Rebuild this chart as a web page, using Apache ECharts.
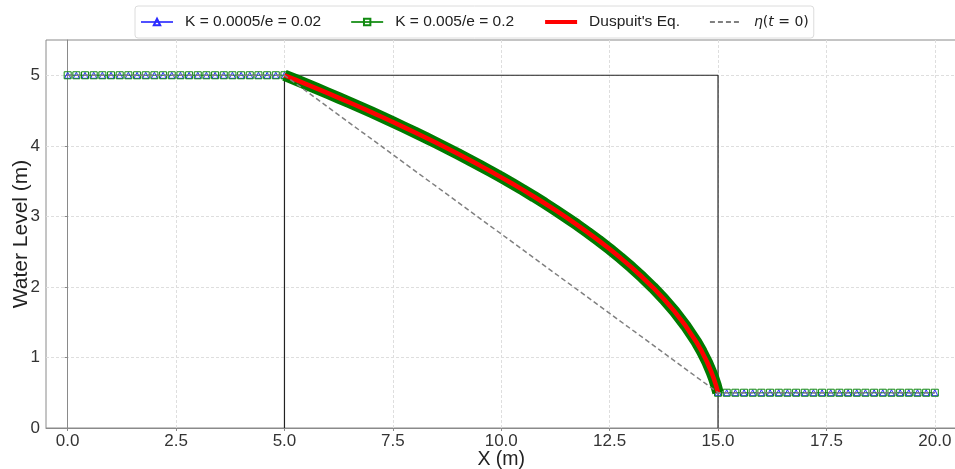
<!DOCTYPE html>
<html>
<head>
<meta charset="utf-8">
<script src="https://cdn.jsdelivr.net/npm/echarts@6/dist/echarts.min.js"></script>
<style>html,body{margin:0;padding:0;background:#fff}#c{width:955px;height:469px}</style>
</head>
<body>
<div id="c"></div>
<script>
// ---- data ----
const xLeft = [0,0.2,0.4,0.6,0.8,1.0,1.2,1.4,1.6,1.8,2.0,2.2,2.4,2.6,2.8,3.0,3.2,3.4,3.6,3.8,4.0,4.2,4.4,4.6,4.8];
const hLeft = [5,5,5,5,5,5,5,5,5,5,5,5,5,5,5,5,5,5,5,5,5,5,5,5,5];
const xMid = [5.0,5.25,5.5,5.75,6.0,6.25,6.5,6.75,7.0,7.25,7.5,7.75,8.0,8.25,8.5,8.75,9.0,9.25,9.5,9.75,10.0,10.25,10.5,10.75,11.0,11.25,11.5,11.75,12.0,12.25,12.5,12.75,13.0,13.25,13.5,13.75,14.0,14.25,14.5,14.625,14.75,14.85,14.9,14.95,15.0];
const hMid = [5.000,4.938,4.875,4.811,4.746,4.680,4.614,4.546,4.478,4.408,4.337,4.265,4.192,4.118,4.042,3.965,3.886,3.805,3.723,3.639,3.553,3.465,3.375,3.282,3.186,3.087,2.985,2.880,2.770,2.656,2.537,2.412,2.280,2.140,1.991,1.829,1.651,1.451,1.220,1.085,0.932,0.788,0.705,0.611,0.500];
const xRight = [15.2,15.4,15.6,15.8,16.0,16.2,16.4,16.6,16.8,17.0,17.2,17.4,17.6,17.8,18.0,18.2,18.4,18.6,18.8,19.0,19.2,19.4,19.6,19.8,20.0];
const hRight = [0.5,0.5,0.5,0.5,0.5,0.5,0.5,0.5,0.5,0.5,0.5,0.5,0.5,0.5,0.5,0.5,0.5,0.5,0.5,0.5,0.5,0.5,0.5,0.5,0.5];
const xInit = [0,5,15,20];
const hInit = [5,5,0.5,0.5];
const xDomain = [5,5,15,15];
const hDomain = [0,5,5,0];
const xTicks = [0,2.5,5,7.5,10,12.5,15,17.5,20];
const yTicks = [0,1,2,3,4,5];
const names = ['K = 0.0005/e = 0.02','K = 0.005/e = 0.2',"Duspuit's Eq.",'η(t = 0)'];

const pair = (xs, ys) => xs.map((x, i) => [x, ys[i]]);
const numData = pair(xLeft, hLeft).concat(pair(xMid, hMid), pair(xRight, hRight));

const chart = echarts.init(document.getElementById('c'), null, {renderer: 'canvas'});
const FONT = '"Liberation Sans", Arial, sans-serif';
const MATH = '"DejaVu Sans", sans-serif';
chart.setOption({
  animation: false,
  backgroundColor: '#fff',
  textStyle: {fontFamily: FONT},
  grid: {left: 46, right: -1.5, top: 40, bottom: 41, show: true, borderColor: '#8a8a8a', borderWidth: 1,
         outerBoundsMode: 'none', containLabel: false},
  legend: {
    data: [
      {name: names[0]},
      {name: names[1]},
      {name: names[2], itemStyle: {opacity: 0}, lineStyle: {width: 4, color: '#ff0000'}},
      {name: names[3], itemStyle: {opacity: 0}}
    ],
    top: 6, left: 135,
    itemWidth: 32, itemHeight: 8, itemGap: 29,
    padding: [8, 5, 8, 5],
    borderColor: '#dcdcdc', borderWidth: 1, borderRadius: 3, backgroundColor: '#fff',
    textStyle: {fontSize: 15.5, color: '#222', fontFamily: FONT,
      rich: {
        t: {fontSize: 15.5, color: '#222', fontFamily: FONT, padding: [0, 0, 0, 7]},
        p: {fontSize: 14, color: '#222', fontFamily: MATH},
        it: {fontStyle: 'italic', fontSize: 14, color: '#222', fontFamily: MATH},
        it0: {fontStyle: 'italic', fontSize: 14, color: '#222', fontFamily: MATH, padding: [0, 0, 0, 7]}
      }},
    formatter: n => n.startsWith('η') ? '{it0|η}{p|(}{it|t}{p| = 0)}' : '{t|' + n + '}'
  },
  xAxis: {
    type: 'value', min: -0.5, max: 20.5,
    name: 'X (m)', nameLocation: 'middle', nameGap: 22, nameMoveOverlap: false,
    nameTextStyle: {fontSize: 19.5, color: '#222', fontFamily: FONT},
    axisLine: {show: true, onZero: false, lineStyle: {color: '#8a8a8a', width: 1}},
    axisTick: {show: true, length: 3, customValues: xTicks, lineStyle: {color: '#8a8a8a'}},
    axisLabel: {customValues: xTicks, fontSize: 17, color: '#333', margin: 5, formatter: v => v.toFixed(1)},
    splitLine: {show: true, lineStyle: {color: '#dedede', type: [3, 2], width: 1}}
  },
  yAxis: {
    type: 'value', min: 0, max: 5.5,
    name: 'Water Level (m)', nameLocation: 'middle', nameGap: 14, nameMoveOverlap: false,
    nameTextStyle: {fontSize: 21, color: '#222', fontFamily: FONT},
    axisLine: {show: true, lineStyle: {color: '#8a8a8a', width: 1}},
    axisTick: {show: true, length: 3, customValues: yTicks, lineStyle: {color: '#8a8a8a'}},
    axisLabel: {customValues: yTicks, fontSize: 17, color: '#333', margin: 6},
    splitLine: {show: true, lineStyle: {color: '#dedede', type: [3, 2], width: 1}}
  },
  series: [
    {type: 'line', name: '_domain', data: pair(xDomain, hDomain), symbol: 'none', silent: true,
     lineStyle: {color: '#222', width: 1.2}, z: 2},
    {type: 'line', name: names[0], data: numData, symbol: 'triangle', symbolSize: 6,
     itemStyle: {color: 'rgba(0,0,0,0)', borderColor: '#2b2bff', borderWidth: 1},
     lineStyle: {color: '#5050ff', width: 1}, z: 3},
    {type: 'line', name: names[1], data: numData, symbol: 'rect', symbolSize: 7,
     itemStyle: {color: 'rgba(0,0,0,0)', borderColor: '#118a11', borderWidth: 1},
     lineStyle: {color: '#2f9a2f', width: 1}, z: 4},
    {type: 'line', name: '_band', data: pair(xMid, hMid), symbol: 'none', silent: true,
     lineStyle: {color: '#007a00', width: 11.5}, z: 5},
    {type: 'line', name: names[2], data: pair(xMid, hMid), symbol: 'none',
     lineStyle: {color: '#ff0000', width: 4.5}, itemStyle: {color: '#ff0000'}, z: 6},
    {type: 'line', name: names[3], data: pair(xInit, hInit), symbol: 'none',
     lineStyle: {color: '#808080', width: 1.5, type: [5, 3]}, itemStyle: {color: '#808080'}, z: 7}
  ]
});
</script>
</body>
</html>
